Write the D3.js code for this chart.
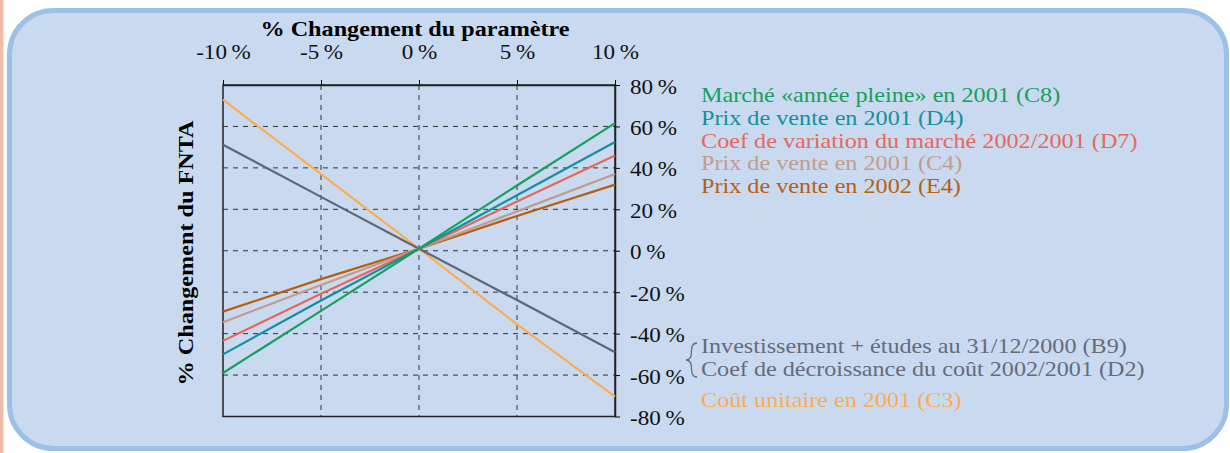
<!DOCTYPE html>
<html>
<head>
<meta charset="utf-8">
<script src="https://cdn.jsdelivr.net/npm/d3@7"></script>
<style>
  body { margin: 0; background: #ffffff; }
  svg { display: block; }
  text { font-family: "Liberation Serif", "DejaVu Serif", serif; }
</style>
</head>
<body>
<svg width="1230" height="453"></svg>
<script>
// Data
var paramSteps = [-10, -5, 0, 5, 10];
var xTicks = [-10, -5, 0, 5, 10];
var yTicks = [80, 60, 40, 20, 0, -20, -40, -60, -80];

var marcheC8   = [-59, -29, 1, 31.5, 61.6];
var prixD4     = [-50, -24, 1, 26.8, 52.5];
var coefD7     = [-43.5, -20.8, 1, 23.8, 46];
var prixC4     = [-34.5, -16.5, 1, 19, 37];
var prixE4     = [-29.4, -13.7, 1, 16.8, 31.9];
var investB9   = [51.2, 26, 1, -23.8, -49];
var coutC3     = [72.9, 37, 1, -35.5, -70.4];

var legendTop = [
    {name: "Marché «année pleine» en 2001 (C8)", color: "#16a05c"},
    {name: "Prix de vente en 2001 (D4)", color: "#13909f"},
    {name: "Coef de variation du marché 2002/2001 (D7)", color: "#e4695b"},
    {name: "Prix de vente en 2001 (C4)", color: "#c39c8b"},
    {name: "Prix de vente en 2002 (E4)", color: "#b6600f"}
];
var legendBottom = [
    "Investissement + études au 31/12/2000 (B9)",
    "Coef de décroissance du coût 2002/2001 (D2)"
];
var legendCout = "Coût unitaire en 2001 (C3)";

// Lines, drawn in this order (back to front)
var lines = [
    {values: coutC3,   color: "#ffab4d"},
    {values: investB9, color: "#5f6677"},
    {values: prixE4,   color: "#b6600f"},
    {values: prixC4,   color: "#c39c8b"},
    {values: coefD7,   color: "#e4695b"},
    {values: prixD4,   color: "#13909f"},
    {values: marcheC8, color: "#16a05c"}
];

// the reference typeface is wider than Liberation Serif
var stretch = 1.1;
var fontSize = 22;

var svg = d3.select("svg");

// Background panel
svg.append("rect").attr("x", 0).attr("y", 0).attr("width", 3.5).attr("height", 453).attr("fill", "#efbcaa");
svg.append("rect")
    .attr("x", 9.5).attr("y", 10.5)
    .attr("width", 1217).attr("height", 438)
    .attr("rx", 44).attr("ry", 44)
    .attr("fill", "#c9daf0")
    .attr("stroke", "#9cc0e6")
    .attr("stroke-width", 5);

// Scales
var x = d3.scaleLinear().domain([-10, 10]).range([223, 615]);
var y = d3.scaleLinear().domain([-80, 80]).range([416.5, 85]);

var g = svg.append("g");

// Grid (dashed)
var grid = g.append("g")
    .attr("stroke", "#333")
    .attr("stroke-width", 1)
    .attr("stroke-dasharray", "5,5");
grid.selectAll("line.gx")
    .data(xTicks.slice(1, -1))
    .join("line")
        .attr("class", "gx")
        .attr("x1", d => x(d)).attr("x2", d => x(d))
        .attr("y1", y(80)).attr("y2", y(-80));
grid.selectAll("line.gy")
    .data(yTicks.slice(1, -1))
    .join("line")
        .attr("class", "gy")
        .attr("x1", x(-10)).attr("x2", x(10))
        .attr("y1", d => y(d)).attr("y2", d => y(d));

// Top axis
var fmt = d => d + "\u2009%";
var topAxis = g.append("g")
    .attr("transform", "translate(0," + y(80) + ")")
    .call(d3.axisTop(x).tickValues(xTicks).tickSize(5).tickSizeOuter(0).tickFormat(fmt));
topAxis.selectAll("text")
    .attr("font-size", 21).attr("dy", 0).attr("y", null)
    .attr("transform", "translate(0,-26) scale(" + stretch + ",1)")
    .attr("fill", "#111");

// Right axis
var rightAxis = g.append("g")
    .attr("transform", "translate(" + x(10) + ",0)")
    .call(d3.axisRight(y).tickValues(yTicks).tickSize(5).tickSizeOuter(0).tickFormat(fmt));
rightAxis.selectAll("text")
    .attr("font-size", 21).attr("dy", 0).attr("x", null)
    .attr("transform", "translate(15,8) scale(" + stretch + ",1)")
    .attr("fill", "#111");

// Frame on the other sides
g.append("rect")
    .attr("x", x(-10)).attr("y", y(80))
    .attr("width", x(10) - x(-10)).attr("height", y(-80) - y(80))
    .attr("fill", "none").attr("stroke", "#222").attr("stroke-width", 1.5);
topAxis.select(".domain").attr("stroke", "#222").attr("stroke-width", 1.5);
rightAxis.select(".domain").attr("stroke", "#222").attr("stroke-width", 1.5);

// Series lines
var lineGen = d3.line()
    .x((d, i) => x(paramSteps[i]))
    .y(d => y(d));

g.append("g")
    .attr("fill", "none")
    .attr("stroke-width", 2.2)
    .selectAll("path")
    .data(lines)
    .join("path")
        .attr("stroke", d => d.color)
        .attr("d", d => lineGen(d.values));

// helper for stretched text placed at (px, py)
function placeText(sel, px, py, sx) {
    return sel.attr("transform", "translate(" + px + "," + py + ") scale(" + (sx || stretch) + ",1)");
}

// Axis titles
svg.append("text")
    .call(placeText, 415, 36)
    .attr("text-anchor", "middle")
    .attr("font-size", fontSize).attr("font-weight", "bold")
    .text("% Changement du paramètre");

svg.append("text")
    .attr("transform", "translate(193,253) rotate(-90) scale(" + stretch + ",1)")
    .attr("text-anchor", "middle")
    .attr("font-size", fontSize).attr("font-weight", "bold")
    .text("% Changement du FNTA");

// Legend, top group
svg.append("g")
    .selectAll("text")
    .data(legendTop)
    .join("text")
        .attr("transform", (d, i) => "translate(701," + (101.7 + i * 22.9) + ") scale(" + stretch + ",1)")
        .attr("font-size", fontSize)
        .attr("fill", d => d.color)
        .text(d => d.name);

// Legend, bottom group with brace (slightly smaller so the two lines don't collide)
svg.append("g")
    .selectAll("text")
    .data(legendBottom)
    .join("text")
        .attr("transform", (d, i) => "translate(701," + (352.5 + i * 23.3) + ") scale(1.15,1)")
        .attr("font-size", 21)
        .attr("fill", "#646b7b")
        .text(d => d);

svg.append("path")
    .attr("d", "M697,343 C690,343 692,352 691,356 C690,359 688,360 686,360 C688,360 690,361 691,364 C692,368 690,377 697,377")
    .attr("fill", "none")
    .attr("stroke", "#646b7b")
    .attr("stroke-width", 1.3);

svg.append("text")
    .call(placeText, 701, 406.7)
    .attr("font-size", fontSize)
    .attr("fill", "#ffab4d")
    .text(legendCout);
</script>
</body>
</html>
